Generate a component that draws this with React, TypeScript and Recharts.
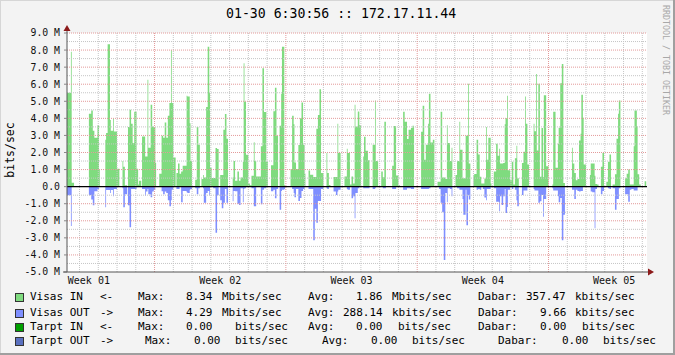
import {
  AreaChart, Area, XAxis, YAxis, CartesianGrid, ReferenceLine, ReferenceDot,
} from "recharts";

const MONO = "'DejaVu Sans Mono', monospace";

// sample start times, hours since graph start (step series, 2h rrd rows)
const hours = [
  0, 5, 6, 9, 28, 31, 33, 35, 39, 41, 42, 49, 50, 52, 55, 56, 59, 60, 64, 67,
  71, 72, 74, 77, 78, 80, 82, 84, 86, 89, 91, 92, 95, 96, 100, 101, 103, 104, 107, 109,
  111, 113, 114, 118, 121, 123, 125, 127, 129, 131, 133, 134, 136, 139, 140, 142, 144, 146, 148, 153,
  154, 157, 158, 160, 164, 166, 168, 170, 172, 174, 175, 178, 180, 182, 183, 185, 187, 190, 192, 194,
  196, 198, 200, 202, 204, 206, 212, 213, 215, 218, 220, 222, 225, 226, 227, 229, 232, 234, 236, 239,
  240, 242, 248, 250, 252, 255, 257, 261, 264, 266, 268, 270, 272, 274, 275, 278, 279, 286, 288, 290,
  291, 293, 296, 298, 300, 302, 304, 305, 309, 311, 315, 317, 319, 321, 323, 325, 328, 332, 333, 335,
  337, 341, 344, 346, 347, 350, 355, 358, 359, 362, 364, 366, 368, 369, 372, 374, 376, 379, 380, 382,
  385, 387, 391, 394, 395, 398, 402, 404, 406, 408, 416, 418, 421, 424, 426, 430, 432, 435, 437, 440,
  442, 444, 453, 455, 457, 459, 462, 463, 465, 468, 470, 474, 476, 478, 480, 482, 484, 486, 487, 490,
  492, 493, 497, 499, 502, 503, 506, 507, 510, 511, 513, 514, 516, 520, 521, 524, 526, 528, 530, 532,
  534, 536, 537, 539, 542, 543, 546, 549, 551, 553, 554, 556, 558, 560, 561, 563, 564, 567, 569, 571,
  573, 575, 576, 578, 582, 584, 586, 587, 589, 591, 597, 598, 600, 601, 603, 605, 607, 609, 610, 613,
  616, 621, 622, 625, 628, 629, 631, 633, 635, 637, 646, 647, 649, 651, 653, 655, 657, 658, 660, 661,
  664, 669, 670, 672, 675, 676, 678, 680, 683, 685, 687, 690, 692, 694, 696, 698, 701, 703, 705, 706,
  708, 714, 716, 718, 720, 722, 725, 726, 729, 730, 732, 734, 739, 741, 742,
];

// Mbits/sec
const visasIn = [
  5.5, 7.9, 0.23, 0, 4.27, 4.46, 3.27, 2.87, 3.6, 1.0, 0, 2.75, 3.14, 8.34, 3.9, 3.27, 4.0, 3.23, 1.05, 0,
  1.5, 1.17, 0.08, 0, 3.5, 4.5, 3.68, 2.55, 4.39, 1.05, 0.12, 0.35, 0, 2.94, 1.77, 1.77, 6.26, 2.28, 4.8, 3.53,
  3.49, 1.4, 0, 0.76, 2.98, 2.87, 3.76, 2.87, 4.15, 4.9, 8.0, 4.9, 1.7, 0, 0.8, 1.35, 0.76, 0.88, 1.23, 5.32,
  5.28, 3.72, 1.5, 0, 0.41, 3.5, 2.45, 0, 0.45, 0.68, 0.53, 4.66, 8.2, 5.5, 1.1, 0.5, 0.5, 2.26, 2.2, 0,
  0.68, 0.68, 3.33, 4.25, 2.8, 0, 0.53, 1.5, 0.35, 0.88, 0.35, 0.53, 1.46, 7.23, 4.97, 1.87, 0.18, 0.08, 0.64, 2.6,
  1.5, 0.6, 2.36, 6.94, 4.37, 1.46, 0, 1.25, 4.42, 5.79, 2.98, 0.02, 3.57, 5.44, 8.2, 0.08, 0, 1.03, 4.15, 3.66,
  1.42, 1.03, 2.44, 4.0, 4.93, 2.45, 0.76, 0, 0.94, 0.7, 0.56, 0.56, 3.39, 4.2, 5.71, 0.8, 0, 1.97, 0.8, 0.1,
  0, 0.56, 0.56, 3.68, 1.97, 0, 0.6, 2.22, 1.97, 0.12, 0.6, 0.18, 4.8, 3.53, 4.4, 3.59, 0, 1.77, 2.92, 2.1,
  1.54, 0, 2.45, 5.05, 1.5, 0, 0.88, 0.55, 3.8, 0, 1.23, 3.55, 0.66, 0.08, 0, 4.39, 3.8, 2.79, 3.33, 3.43,
  3.57, 0, 3.22, 4.74, 1.58, 2.45, 3.68, 5.44, 2.59, 2.75, 0, 0.29, 0.29, 4.39, 0.53, 0.53, 0.45, 3.6, 2.55, 1.5,
  2.28, 0, 0.68, 1.5, 3.8, 2.16, 0.49, 0.49, 2.98, 2.98, 6.02, 1.35, 0, 0.66, 0.74, 2.75, 1.89, 0.58, 0.18, 0.18,
  0.47, 3.49, 1.58, 2.87, 0.18, 0, 0.88, 2.51, 1.81, 2.22, 1.35, 1.35, 1.38, 3.65, 4.0, 5.32, 0.96, 0.37, 1.46, 0.12,
  1.66, 2.4, 0.49, 0, 1.38, 2.05, 5.28, 3.68, 1.29, 0, 3.68, 3.24, 6.6, 2.12, 6.02, 0.58, 3.43, 0.56, 5.36, 1.19,
  0, 0.12, 4.39, 1.11, 2.51, 3.45, 6.06, 7.19, 0.21, 0, 2.28, 1.35, 0.8, 0.37, 0.45, 2.71, 3.1, 5.38, 4.03, 1.29,
  0, 0.68, 1.35, 1.35, 0.64, 0.16, 0.12, 0, 1.17, 1.97, 0, 0.29, 1.46, 1.89, 0, 0.12, 0.72, 2.81, 4.27, 5.05,
  0, 0.49, 0.76, 1.0, 0.12, 0.12, 2.36, 4.46, 3.53, 0.72, 0.12, 0, 0.31, 0, 0,
];

// drawn below zero (rrd CDEF negated)
const visasOut = [
  -0.5, -2.3, 0, 0, -0.5, -0.76, -1.09, -0.27, -0.14, 0, 0, -1.2, -0.2, -0.2, -0.37, -0.2, -0.56, -0.14, 0, 0,
  -0.1, -1.2, -0.45, 0, -1.09, -2.38, -0.14, -0.14, -0.14, 0, 0, 0, 0, -0.14, -0.53, -0.29, -0.14, -0.45, -0.62, -0.29,
  -0.2, 0, 0, 0, -0.27, -0.45, -0.29, -0.37, -0.8, -1.15, -0.8, -0.18, 0, 0, -0.14, -0.14, 0, -0.92, -0.25, -0.33,
  -0.37, -0.18, -0.14, 0, -0.1, -0.45, -0.1, 0, 0, -0.1, -0.95, -0.37, -0.25, -0.5, 0, 0, -0.1, -2.7, -0.5, 0,
  -0.8, -1.27, -0.95, -0.14, -0.95, 0, -0.86, -0.25, -0.27, -1.0, -1.07, -0.1, -0.92, -0.14, -0.1, 0, 0, 0, -0.1, -1.15,
  -1.15, 0, -1.03, -0.18, -0.1, 0, 0, -0.27, -0.18, -0.68, -0.14, 0, -1.35, -0.25, -0.18, -0.14, 0, 0, -0.14, -0.37,
  -0.62, -0.14, -0.84, -0.66, -0.25, -0.14, 0, 0, -0.14, -0.14, -3.14, -1.3, -2.12, -0.84, -0.84, -0.14, 0, -0.1, -0.14, 0,
  0, -0.29, -0.49, -0.29, -0.18, 0, 0, -0.14, -0.18, 0, -0.68, -0.56, -1.85, -0.37, -0.1, 0, 0, -0.1, -0.1, -0.1,
  -0.1, 0, -0.14, -0.1, 0, 0, 0, -0.1, -0.1, 0, -0.14, -0.14, 0, 0, 0, -0.18, -0.18, -0.1, -0.1, -0.14,
  -0.14, 0, -0.14, -0.14, -0.14, -0.14, -0.14, -0.1, 0, 0, 0, 0, -0.14, -0.95, -1.5, -4.29, -0.37, -0.92, -0.1, -0.14,
  -0.56, 0, 0, -0.1, -0.18, -0.18, -0.72, -1.64, -0.18, -2.26, -0.51, -0.76, 0, 0, 0, -0.18, -0.14, -0.18, 0, -0.14,
  -0.64, -0.8, -0.14, -0.14, 0, 0, -0.1, -0.88, -0.88, -1.44, -0.56, -1.07, -0.56, -0.14, -1.54, -1.19, -0.18, 0, -0.14, 0,
  -0.18, -0.8, -1.15, 0, -0.49, -0.22, -0.22, -0.22, 0, 0, -0.14, -0.22, -0.22, -0.22, -0.95, -0.86, -0.49, -1.77, -0.72, 0,
  0, -0.1, -0.22, -0.22, -0.56, -0.92, -0.66, -3.14, -1.64, 0, -0.18, -0.18, -0.72, -0.18, -0.25, -0.29, -0.25, -0.25, 0, 0,
  0, 0, -0.29, -0.33, -2.44, -0.14, 0, 0, -0.45, -0.25, 0, 0, -0.1, -0.14, 0, -0.1, -1.35, -0.72, -0.72, -0.1,
  0, -0.45, -0.45, -0.88, -0.18, -0.14, -0.22, -0.22, -0.22, 0, 0, 0, 0, 0, 0,
];

const weekLabelHours = [28, 196, 364, 532, 700];
const weekLabels = ["Week 01", "Week 02", "Week 03", "Week 04", "Week 05"];
const weekLines = [112, 280, 448, 616];
const dayLines = [
  16, 40, 64, 88, 136, 160, 184, 208, 232, 256, 304, 328, 352, 376, 400, 424,
  472, 496, 520, 544, 568, 592, 640, 664, 688, 712, 736,
];
const yTicks = [-5, -4, -3, -2, -1, 0, 1, 2, 3, 4, 5, 6, 7, 8, 9];
const yMajorLines = [-4, -3, -2, -1, 1, 2, 3, 4, 5, 6, 7, 8, 9];
const yMinorLines = [-4.5, -3.5, -2.5, -1.5, -0.5, 0.5, 1.5, 2.5, 3.5, 4.5, 5.5, 6.5, 7.5, 8.5];

const legendColors = ["#7fdb7f", "#7f8fff", "#00a000", "#5a70bf"];
const legendRows = [
  ["Visas IN", "<-", "Max:", "8.34", "Mbits/sec", "Avg:", "1.86", "Mbits/sec", "Dabar:", "357.47", "kbits/sec"],
  ["Visas OUT", "->", "Max:", "4.29", "Mbits/sec", "Avg:", "288.14", "kbits/sec", "Dabar:", "9.66", "kbits/sec"],
  ["Tarpt IN", "<-", "Max:", "0.00", "bits/sec", "Avg:", "0.00", "bits/sec", "Dabar:", "0.00", "bits/sec"],
  ["Tarpt OUT", "->", "Max:", "0.00", "bits/sec", "Avg:", "0.00", "bits/sec", "Dabar:", "0.00", "bits/sec"],
];
const legendX = [
  [30, 100, 138, 186, 222, 308, 356, 392, 478, 526, 575],
  [30, 100, 138, 186, 222, 308, 343, 392, 478, 540, 575],
  [30, 100, 138, 186, 235, 308, 356, 398, 478, 540, 582],
  [30, 100, 145, 194, 235, 322, 371, 412, 498, 562, 603],
];
const legendY = [297, 312.5, 326.5, 340.5];

const data = hours.map((t, i) => ({ t, visasIn: visasIn[i], visasOut: visasOut[i] }));

const fmtY = (v: number) => (v === 0 ? "0.0" : `${v.toFixed(1)} M`);

function TopArrow(props: any) {
  const { cx, cy } = props;
  return (
    <g>
      <line x1={cx} y1={cy} x2={cx} y2={cy - 3} stroke="#555" />
      <polygon points={`${cx - 3.5},${cy - 2} ${cx + 3.5},${cy - 2} ${cx},${cy - 8}`} fill="#8c1a1a" />
    </g>
  );
}

function RightArrow(props: any) {
  const { cx, cy } = props;
  return (
    <g>
      <line x1={cx} y1={cy} x2={cx + 2} y2={cy} stroke="#555" />
      <line x1={67 - 4} y1={cy} x2={67} y2={cy} stroke="#555" />
      <polygon points={`${cx + 1},${cy - 3.5} ${cx + 1},${cy + 3.5} ${cx + 7},${cy}`} fill="#8c1a1a" />
    </g>
  );
}

export default function App() {
  return (
    <div
      style={{
        position: "absolute", left: 0, top: 0, width: 675, height: 355,
        background: "#f3f3f3", fontFamily: MONO, overflow: "hidden",
        boxShadow: "inset -2px -2px 0 #9f9f9f, inset 1px 1px 0 #d6d6d6",
      }}
    >
      <div style={{ position: "absolute", left: 226, top: 6, fontSize: 13.2, lineHeight: "16px", color: "#000", whiteSpace: "pre" }}>
        01-30 6:30:56 :: 172.17.11.44
      </div>
      <div
        style={{
          position: "absolute", left: 10, top: 150, fontSize: 11.5, lineHeight: "12px",
          transform: "translate(-50%, -50%) rotate(-90deg)", whiteSpace: "pre", color: "#000",
        }}
      >
        bits/sec
      </div>
      <div
        style={{
          position: "absolute", left: 661, top: 5, fontSize: 8.3, lineHeight: "10px",
          writingMode: "vertical-rl", color: "#a8a8a8", whiteSpace: "pre",
        }}
      >
        RRDTOOL / TOBI OETIKER
      </div>

      <div style={{ position: "absolute", left: 0, top: 0 }}>
        <AreaChart width={675} height={355} data={data} margin={{ top: 33, right: 28, left: 7, bottom: 63 }}>
          <CartesianGrid horizontal={false} vertical={false} fill="#ffffff" />
          <XAxis
            dataKey="t"
            type="number"
            domain={[0, 742]}
            allowDataOverflow
            ticks={weekLabelHours}
            interval={0}
            tickFormatter={(v: number) => weekLabels[weekLabelHours.indexOf(v)]}
            tickLine={false}
            tickSize={0}
            tickMargin={5}
            height={20}
            axisLine={{ stroke: "#555" }}
            tick={{ fontSize: 10, fill: "#111", fontFamily: MONO }}
          />
          <YAxis
            type="number"
            domain={[-5, 9]}
            allowDataOverflow
            ticks={yTicks}
            interval={0}
            tickFormatter={fmtY}
            width={60}
            tickSize={3}
            tickMargin={4}
            tickLine={{ stroke: "#888" }}
            axisLine={{ stroke: "#555" }}
            tick={{ fontSize: 9.8, fill: "#111", fontFamily: MONO }}
          />
          <Area
            type="stepAfter"
            dataKey="visasIn"
            fill="#7fdb7f"
            fillOpacity={1}
            stroke="none"
            dot={false}
            activeDot={false}
            isAnimationActive={false}
          />
          <Area
            type="stepAfter"
            dataKey="visasOut"
            fill="#7f8fff"
            fillOpacity={1}
            stroke="none"
            dot={false}
            activeDot={false}
            isAnimationActive={false}
          />
          {yMinorLines.map((v) => (
            <ReferenceLine key={`ym${v}`} y={v} stroke="#c6c6c6" strokeDasharray="1 1" />
          ))}
          {dayLines.map((v) => (
            <ReferenceLine key={`d${v}`} x={v} stroke="#c6c6c6" strokeDasharray="1 1" />
          ))}
          {yMajorLines.map((v) => (
            <ReferenceLine key={`yM${v}`} y={v} stroke="#e39a9a" strokeDasharray="1 1" />
          ))}
          {weekLines.map((v) => (
            <ReferenceLine key={`w${v}`} x={v} stroke="#e39a9a" strokeDasharray="1 1" />
          ))}
          <ReferenceLine y={0} stroke="#000" strokeWidth={1.2} />
          <ReferenceDot x={0} y={9} r={0} ifOverflow="visible" shape={TopArrow} />
          <ReferenceDot x={742} y={-5} r={0} ifOverflow="visible" shape={RightArrow} />
        </AreaChart>
      </div>

      {legendRows.map((row, r) => (
        <div key={r}>
          <div
            style={{
              position: "absolute", left: 15, top: legendY[r] - 4, width: 9, height: 9,
              boxSizing: "border-box", border: "1px solid #333", background: legendColors[r],
            }}
          />
          {row.map((txt, c) => (
            <div
              key={c}
              style={{
                position: "absolute", left: legendX[r][c], top: legendY[r] - 7, fontSize: 11,
                lineHeight: "14px", whiteSpace: "pre", color: "#000",
              }}
            >
              {txt}
            </div>
          ))}
        </div>
      ))}
    </div>
  );
}
